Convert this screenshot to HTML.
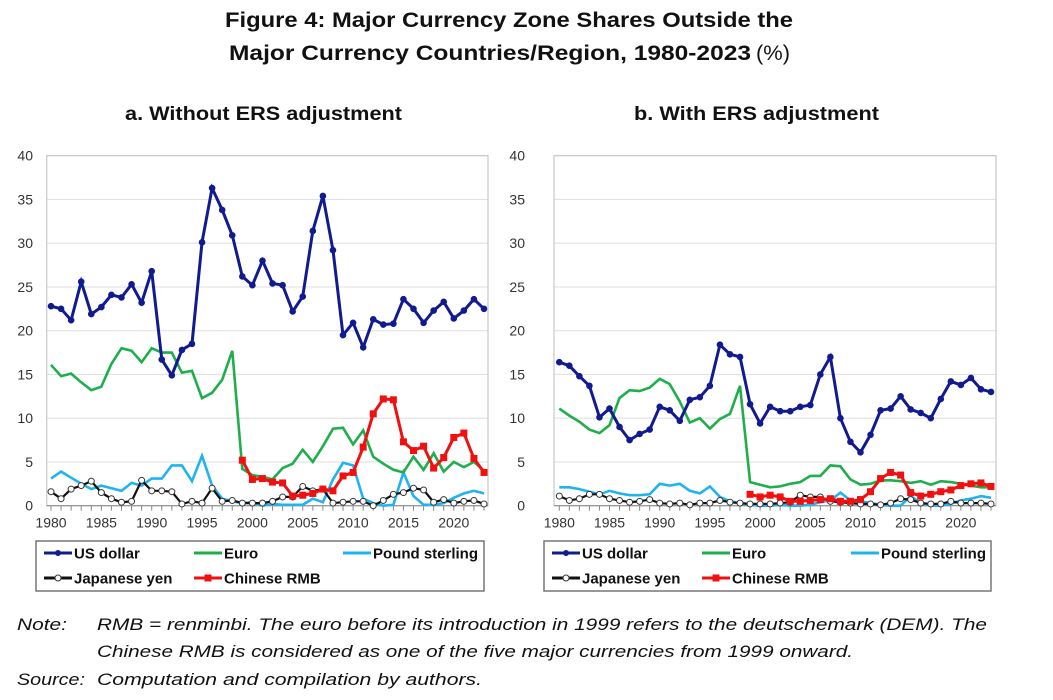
<!DOCTYPE html>
<html><head><meta charset="utf-8"><style>
html,body{margin:0;padding:0;background:#fff}
svg{display:block}
</style></head><body>
<svg id="s" width="1053" height="700" xmlns="http://www.w3.org/2000/svg" font-family="Liberation Sans, sans-serif">
<rect width="1053" height="700" fill="#fff"/>
<text x="225" y="27" font-size="21" font-weight="bold" textLength="568" lengthAdjust="spacingAndGlyphs" fill="#111">Figure 4: Major Currency Zone Shares Outside the</text>
<text x="229" y="60" font-size="21" font-weight="bold" textLength="522" lengthAdjust="spacingAndGlyphs" fill="#111">Major Currency Countries/Region, 1980-2023</text>
<text x="756" y="60" font-size="21" textLength="34" lengthAdjust="spacingAndGlyphs" fill="#111">(%)</text>
<text x="125" y="120" font-size="19" font-weight="bold" textLength="277" lengthAdjust="spacingAndGlyphs" fill="#111">a. Without ERS adjustment</text>
<text x="634" y="120" font-size="19" font-weight="bold" textLength="245" lengthAdjust="spacingAndGlyphs" fill="#111">b. With ERS adjustment</text>
<g font-style="italic" font-size="17" fill="#111">
<text x="17" y="630" textLength="50" lengthAdjust="spacingAndGlyphs">Note:</text>
<text x="97" y="630" textLength="890" lengthAdjust="spacingAndGlyphs">RMB = renminbi. The euro before its introduction in 1999 refers to the deutschemark (DEM). The</text>
<text x="97" y="657" textLength="756" lengthAdjust="spacingAndGlyphs">Chinese RMB is considered as one of the five major currencies from 1999 onward.</text>
<text x="17" y="685" textLength="68" lengthAdjust="spacingAndGlyphs">Source:</text>
<text x="97" y="685" textLength="385" lengthAdjust="spacingAndGlyphs">Computation and compilation by authors.</text>
</g>
<g id="g"></g>
</svg>
<script>
var NS="http://www.w3.org/2000/svg",G=document.getElementById("g");
function el(t,a,txt){var e=document.createElementNS(NS,t);for(var k in a)e.setAttribute(k,a[k]);if(txt!=null)e.textContent=txt;G.appendChild(e);return e;}
var A={
usd:[22.8,22.5,21.2,25.6,21.9,22.7,24.1,23.8,25.3,23.2,26.8,16.7,14.9,17.8,18.5,30.1,36.3,33.8,30.9,26.2,25.2,28.0,25.4,25.2,22.2,23.9,31.4,35.4,29.2,19.5,20.9,18.1,21.3,20.7,20.8,23.6,22.5,20.9,22.3,23.3,21.4,22.3,23.6,22.5],
eur:[16.1,14.8,15.1,14.1,13.2,13.6,16.2,18.0,17.7,16.4,18.0,17.5,17.5,15.2,15.4,12.3,12.9,14.4,17.7,4.2,3.5,3.3,3.0,4.3,4.8,6.4,5.0,6.8,8.8,8.9,7.0,8.6,5.6,4.8,4.1,3.8,5.6,4.1,6.0,3.9,5.0,4.4,5.0,4.0],
gbp:[3.1,3.9,3.2,2.5,1.9,2.3,2.0,1.7,2.6,2.3,3.1,3.1,4.6,4.6,2.8,5.7,2.3,0.8,0.5,0.3,0.4,0.0,0.2,0.1,0.1,0.1,0.8,0.4,3.0,4.9,4.6,0.8,0.3,0.0,0.1,3.8,1.1,0.1,0.1,0.3,0.9,1.4,1.7,1.4],
jpy:[1.6,0.8,1.9,2.3,2.8,1.5,0.8,0.4,0.5,2.9,1.7,1.7,1.6,0.2,0.5,0.3,2.0,0.5,0.6,0.3,0.3,0.3,0.5,1.0,1.0,2.2,1.7,1.9,0.3,0.4,0.5,0.5,0.0,0.6,1.3,1.5,2.0,1.8,0.4,0.7,0.3,0.5,0.6,0.2],
rmb:[5.2,3.0,3.1,2.7,2.6,1.1,1.2,1.4,1.9,1.7,3.4,3.8,6.7,10.5,12.2,12.1,7.3,6.3,6.8,4.3,5.5,7.8,8.3,5.4,3.8]};
var B={
usd:[16.4,16.0,14.8,13.7,10.1,11.1,9.0,7.5,8.2,8.7,11.3,10.9,9.7,12.1,12.4,13.7,18.4,17.3,17.0,11.6,9.4,11.3,10.8,10.8,11.3,11.5,15.0,17.0,10.0,7.3,6.1,8.1,10.9,11.1,12.5,11.0,10.6,10.0,12.2,14.2,13.8,14.6,13.3,13.0],
eur:[11.1,10.3,9.6,8.7,8.3,9.2,12.3,13.2,13.1,13.5,14.5,13.9,11.9,9.5,10.0,8.8,9.9,10.5,13.7,2.7,2.4,2.1,2.2,2.5,2.7,3.4,3.4,4.6,4.5,3.0,2.4,2.5,2.9,2.9,2.8,2.6,2.8,2.4,2.8,2.7,2.5,2.3,2.1,2.1],
gbp:[2.1,2.1,1.9,1.6,1.3,1.7,1.4,1.2,1.2,1.3,2.5,2.3,2.5,1.7,1.4,2.2,1.0,0.5,0.3,0.1,0,0,0.1,0,0,0.1,0.4,0.6,1.5,0.6,0.5,0.3,0.1,0,0,1.1,0.3,0,0,0.2,0.6,0.8,1.1,0.9],
jpy:[1.1,0.6,0.8,1.3,1.3,0.8,0.6,0.4,0.5,0.7,0.3,0.2,0.3,0.1,0.3,0.3,0.6,0.4,0.3,0.2,0.2,0.2,0.3,0.4,1.2,1.0,1.0,0.5,0.4,0.3,0.2,0.2,0.1,0.3,0.8,0.7,0.3,0.2,0.2,0.5,0.3,0.3,0.3,0.2],
rmb:[1.3,1.0,1.2,1.0,0.5,0.5,0.6,0.7,0.8,0.5,0.5,0.7,1.6,3.1,3.8,3.5,1.5,1.1,1.3,1.6,1.8,2.3,2.5,2.6,2.2]};
function panel(D,L,R,x0,x1,lx0,lx1,labx){
 var T=155.7,Bt=505.7,ys=(Bt-T)/40;
 var st=(x1-x0)/43;
 function X(i){return x0+i*st} function Y(v){return Bt-v*ys}
 for(var v=5;v<=40;v+=5) el("line",{x1:L,x2:R,y1:Y(v),y2:Y(v),stroke:"#e2e2e2","stroke-width":1.2});
 el("rect",{x:L,y:T,width:R-L,height:Bt-T,fill:"none",stroke:"#c8c8c8","stroke-width":1.2});
 el("line",{x1:L,x2:R,y1:Bt,y2:Bt,stroke:"#888","stroke-width":1});
 for(var v=0;v<=40;v+=5) el("text",{x:labx,y:Y(v)+5,"font-size":14,"text-anchor":"end",fill:"#333"},String(v));
 for(var i=0;i<=43;i++){el("line",{x1:X(i),x2:X(i),y1:Bt,y2:Bt+5,stroke:"#888"});}
 for(var y=1980;y<=2020;y+=5) el("text",{x:X(y-1980),y:Bt+22,"font-size":14,"text-anchor":"middle",fill:"#333"},String(y));
 function pts(arr,off){return arr.map(function(v,i){return X(i+off).toFixed(1)+","+Y(v).toFixed(1)}).join(" ")}
 el("polyline",{points:pts(D.gbp,0),fill:"none",stroke:"#1fb4f0","stroke-width":2.6});
 el("polyline",{points:pts(D.eur,0),fill:"none",stroke:"#1fae4c","stroke-width":2.6});
 el("polyline",{points:pts(D.jpy,0),fill:"none",stroke:"#111","stroke-width":2.2});
 D.jpy.forEach(function(v,i){el("circle",{cx:X(i),cy:Y(v),r:3,fill:"#fff",stroke:"#333","stroke-width":1})});
 el("polyline",{points:pts(D.rmb,19),fill:"none",stroke:"#f01010","stroke-width":3});
 D.rmb.forEach(function(v,i){el("rect",{x:X(i+19)-3.5,y:Y(v)-3.5,width:7,height:7,fill:"#f01010"})});
 el("polyline",{points:pts(D.usd,0),fill:"none",stroke:"#111b8f","stroke-width":3});
 D.usd.forEach(function(v,i){el("circle",{cx:X(i),cy:Y(v),r:3.3,fill:"#111b8f"})});
 // legend
 el("rect",{x:lx0,y:541,width:lx1-lx0,height:50,fill:"#fff",stroke:"#777","stroke-width":1.5});
 var a=lx0+8;
 function item(x,y,col,mk,lab){
  el("line",{x1:x,x2:x+28,y1:y,y2:y,stroke:col,"stroke-width":3});
  if(mk=="d")el("circle",{cx:x+14,cy:y,r:3,fill:col});
  if(mk=="o")el("circle",{cx:x+14,cy:y,r:3,fill:"#fff",stroke:"#333"});
  if(mk=="s")el("rect",{x:x+10.5,y:y-3.5,width:7,height:7,fill:col});
  el("text",{x:x+30,y:y+5.5,"font-size":15,"font-weight":"bold",fill:"#111"},lab);
 }
 item(a,553,"#111b8f","d","US dollar");
 item(a+150,553,"#1fae4c","","Euro");
 item(a+299,553,"#1fb4f0","","Pound sterling");
 item(a,578,"#111","o","Japanese yen");
 item(a+150,578,"#f01010","s","Chinese RMB");
}
panel(A,46.7,488,51,484,36,484,33);
panel(B,554,996,559.3,991,544,991,525);
</script>
</body></html>
